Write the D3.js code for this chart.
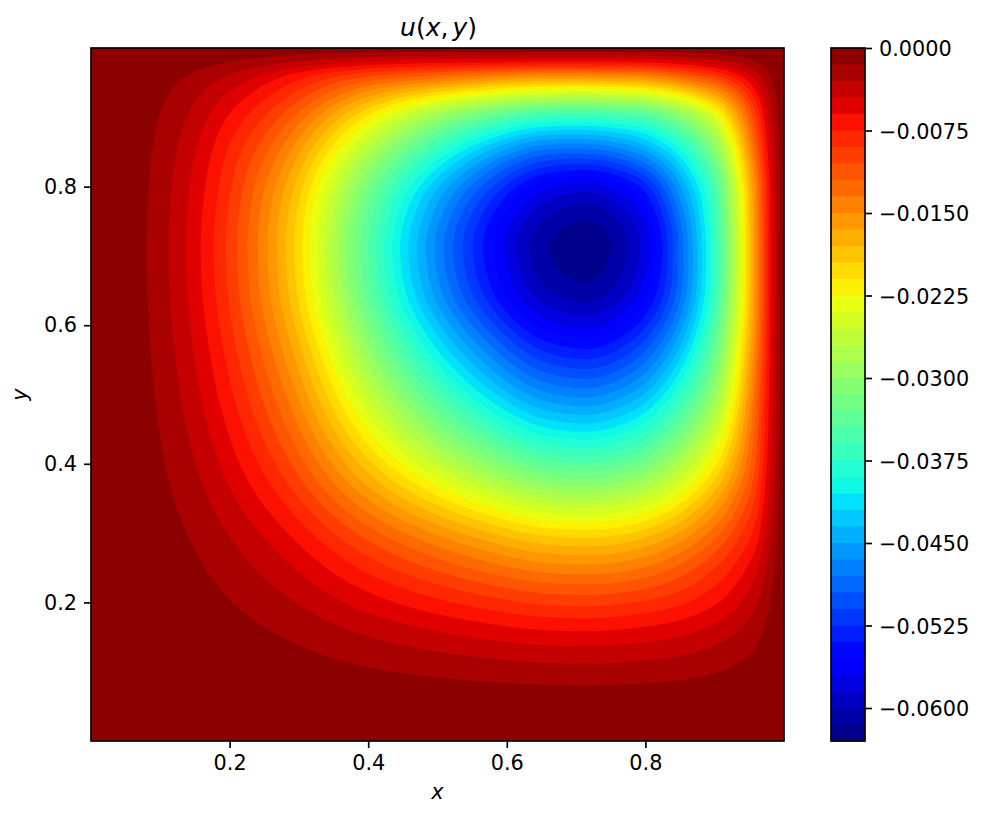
<!DOCTYPE html>
<html>
<head>
<meta charset="utf-8">
<script src="https://cdn.jsdelivr.net/npm/d3@7"></script>
<style>
  html, body { margin: 0; padding: 0; background: #fff; }
  svg { display: block; }
  text { font-family: "DejaVu Sans", sans-serif; fill: #000; }
  .axis path, .axis line { stroke: #000; stroke-width: 1.67; }
  .axis text { font-size: 20.8px; }
  .frame { fill: none; stroke: #000; stroke-width: 1.67; }
</style>
</head>
<body>
<svg id="chart" width="985" height="819"></svg>
<script>
// sample positions shared by both axes, tighter where the field drops fast
const gridPositions = [0, 0.05, 0.1, 0.15, 0.2, 0.25, 0.3, 0.4, 0.5, 0.6, 0.65, 0.71, 0.75, 0.8, 0.85, 0.9, 0.93, 0.96, 0.98, 1];

// -u * 10^4; field is symmetric in x and y so only the lower triangle is kept
const depthRows = [
  [0],
  [0, 0.05],
  [0, 0.2, 0.92],
  [0, 0.43, 2.07, 4.67],
  [0, 0.76, 3.65, 8.2, 14.4],
  [0, 1.15, 5.57, 12.5, 22, 33.6],
  [0, 1.63, 7.83, 17.6, 31, 47.3, 66.6],
  [0, 2.75, 13.2, 29.8, 52.4, 80, 113, 190],
  [0, 3.74, 18, 40.6, 71.4, 109, 153, 259, 353],
  [0, 4.57, 22, 49.5, 87.1, 133, 187, 316, 431, 525],
  [0, 4.86, 23.4, 52.7, 92.7, 142, 199, 337, 459, 559, 595],
  [0, 5, 24, 54, 95, 145, 204, 345, 470, 573, 610, 625],
  [0, 4.9, 23.6, 53.1, 93.5, 143, 201, 339, 462, 564, 600, 615, 605],
  [0, 4.59, 22.1, 49.8, 87.6, 134, 188, 318, 433, 528, 562, 576, 567, 531],
  [0, 4.1, 19.8, 44.5, 78.2, 116, 163, 275, 375, 458, 485, 490, 482, 452, 396],
  [0, 3.26, 15.7, 35.3, 62.2, 90.6, 127, 215, 294, 350, 368, 372, 366, 353, 309, 243],
  [0, 2.56, 12.3, 27.9, 49, 71.8, 99, 165, 216, 253, 265, 269, 265, 255, 224, 173, 126],
  [0, 1.65, 8, 17.8, 31.4, 48.1, 67.6, 102, 122, 143, 148, 148, 146, 141, 119, 92, 67, 36.8],
  [0, 0.78, 3.7, 8.4, 14.9, 22.6, 31.8, 47.1, 55.1, 58.8, 60.7, 61, 60, 57.8, 49.2, 37.4, 27.1, 14.9, 6.2],
  [0, 0, 0, 0, 0, 0, 0, 0, 0, 0, 0, 0, 0, 0, 0, 0, 0, 0, 0, 0]
];

const levelStep = 0.0015;
const levelCount = 42;
const colorbarMin = -0.063;

const xTicks = [0.2, 0.4, 0.6, 0.8];
const yTicks = [0.2, 0.4, 0.6, 0.8];
const colorbarTicks = [0, -0.0075, -0.015, -0.0225, -0.03, -0.0375, -0.045, -0.0525, -0.06];

// matplotlib jet, as [position, channel]
const jetRed = [[0, 0], [0.35, 0], [0.66, 1], [0.89, 1], [1, 0.5]];
const jetGreen = [[0, 0], [0.125, 0], [0.375, 1], [0.64, 1], [0.91, 0], [1, 0]];
const jetBlue = [[0, 0.5], [0.11, 1], [0.34, 1], [0.65, 0], [1, 0]];

function channelScale(stops) {
  return d3.scaleLinear().domain(stops.map((d) => d[0])).range(stops.map((d) => d[1]));
}

const red = channelScale(jetRed);
const green = channelScale(jetGreen);
const blue = channelScale(jetBlue);

function jet(t) {
  return d3.rgb(red(t) * 255, green(t) * 255, blue(t) * 255).formatHex();
}

const plot = { left: 91, right: 784, top: 48, bottom: 741 };
const bar = { left: 831, right: 865, top: 48, bottom: 741 };

const svg = d3.select("#chart");

const x = d3.scaleLinear().domain([0, 1]).range([plot.left, plot.right]);
const y = d3.scaleLinear().domain([0, 1]).range([plot.bottom, plot.top]);

// band k covers depth k*step .. (k+1)*step and takes the colour of its midpoint
const bands = d3.range(levelCount).map((k) => {
  const upper = -k * levelStep;
  const lower = upper - levelStep;
  return { k, upper, lower, color: jet(((upper + lower) / 2 - colorbarMin) / -colorbarMin) };
});

// smooth resampling of one row of the table, so contour edges do not show the grid cells
function resampleRow(row, targets) {
  const xs = gridPositions;
  const last = xs.length - 1;
  const slope = (i) => {
    const a = Math.max(i - 1, 0);
    const b = Math.min(i + 1, last);
    return (row[b] - row[a]) / (xs[b] - xs[a]);
  };
  return targets.map((t) => {
    const i = Math.min(d3.bisectRight(xs, t) - 1, last - 1);
    const h = xs[i + 1] - xs[i];
    const s = (t - xs[i]) / h;
    return (2 * s ** 3 - 3 * s ** 2 + 1) * row[i]
      + (s ** 3 - 2 * s ** 2 + s) * h * slope(i)
      + (-2 * s ** 3 + 3 * s ** 2) * row[i + 1]
      + (s ** 3 - s ** 2) * h * slope(i + 1);
  });
}

function renderField() {
  const n = gridPositions.length;
  const square = d3.range(n).map((j) => d3.range(n).map((i) => depthRows[Math.max(i, j)][Math.min(i, j)]));

  const m = 300;
  const targets = d3.range(m).map((i) => i / (m - 1));
  const alongX = square.map((row) => resampleRow(row, targets));
  const columns = targets.map((t, i) => resampleRow(alongX.map((row) => row[i]), targets));

  const values = [];
  for (let j = 0; j < m; j++) {
    for (let i = 0; i < m; i++) {
      values.push(columns[i][j]);
    }
  }

  const thresholds = bands.slice(1).map((d) => d.k * levelStep * 1e4);
  const contours = d3.contours().size([m, m]).thresholds(thresholds)(values);

  // contour coordinates sit half a cell off the sample index
  const toPosition = (c) => (c - 0.5) / (m - 1);
  const line = d3.line()
    .x((d) => x(toPosition(d[0])))
    .y((d) => y(toPosition(d[1])))
    .curve(d3.curveLinearClosed);

  const group = svg.append("g");

  group.append("rect")
    .attr("x", plot.left)
    .attr("y", plot.top)
    .attr("width", plot.right - plot.left)
    .attr("height", plot.bottom - plot.top)
    .attr("fill", bands[0].color);

  group.selectAll("path")
    .data(contours)
    .join("path")
    .attr("fill", (d, i) => bands[i + 1].color)
    .attr("d", (d) => d.coordinates
      .map((polygon) => polygon.map((ring) => line(ring.slice(0, -1))).join(""))
      .join(""));

  svg.append("g")
    .attr("class", "axis")
    .attr("transform", `translate(0,${plot.bottom})`)
    .call(d3.axisBottom(x).tickValues(xTicks).tickSize(7).tickPadding(7).tickFormat(d3.format(".1f")))
    .call((g) => g.select(".domain").remove());

  svg.append("g")
    .attr("class", "axis")
    .attr("transform", `translate(${plot.left},0)`)
    .call(d3.axisLeft(y).tickValues(yTicks).tickSize(7).tickPadding(7).tickFormat(d3.format(".1f")))
    .call((g) => g.select(".domain").remove());

  svg.append("rect")
    .attr("class", "frame")
    .attr("x", plot.left)
    .attr("y", plot.top)
    .attr("width", plot.right - plot.left)
    .attr("height", plot.bottom - plot.top);
}

function renderColorbar() {
  const c = d3.scaleLinear().domain([colorbarMin, 0]).range([bar.bottom, bar.top]);

  svg.append("g")
    .selectAll("rect")
    .data(bands)
    .join("rect")
    .attr("x", bar.left)
    .attr("width", bar.right - bar.left)
    .attr("y", (d) => c(d.upper))
    .attr("height", (d) => c(d.lower) - c(d.upper) + 0.5)
    .attr("fill", (d) => d.color);

  svg.append("g")
    .attr("class", "axis")
    .attr("transform", `translate(${bar.right},0)`)
    .call(d3.axisRight(c).tickValues(colorbarTicks).tickSize(7).tickPadding(7).tickFormat(d3.format(".4f")))
    .call((g) => g.select(".domain").remove())
    .call((g) => g.selectAll("text").attr("transform", "translate(0,1)"));

  svg.append("rect")
    .attr("class", "frame")
    .attr("x", bar.left)
    .attr("y", bar.top)
    .attr("width", bar.right - bar.left)
    .attr("height", bar.bottom - bar.top);
}

function renderLabels() {
  const title = svg.append("text")
    .attr("x", (plot.left + plot.right) / 2 + 1)
    .attr("y", 36)
    .attr("text-anchor", "middle")
    .attr("font-size", 25);
  [["u", true, 0], ["(", false, 0], ["x", true, 0], [",", false, 0], ["y", true, 4], [")", false, 0]].forEach(([part, italic, gap]) => {
    title.append("tspan")
      .attr("font-style", italic ? "italic" : "normal")
      .attr("dx", gap)
      .text(part);
  });

  svg.append("text")
    .attr("x", (plot.left + plot.right) / 2)
    .attr("y", 799)
    .attr("text-anchor", "middle")
    .attr("font-size", 20.8)
    .attr("font-style", "italic")
    .text("x");

  svg.append("text")
    .attr("transform", `translate(27,${(plot.top + plot.bottom) / 2}) rotate(-90)`)
    .attr("text-anchor", "middle")
    .attr("font-size", 20.8)
    .attr("font-style", "italic")
    .text("y");
}

renderField();
renderColorbar();
renderLabels();
</script>
</body>
</html>
